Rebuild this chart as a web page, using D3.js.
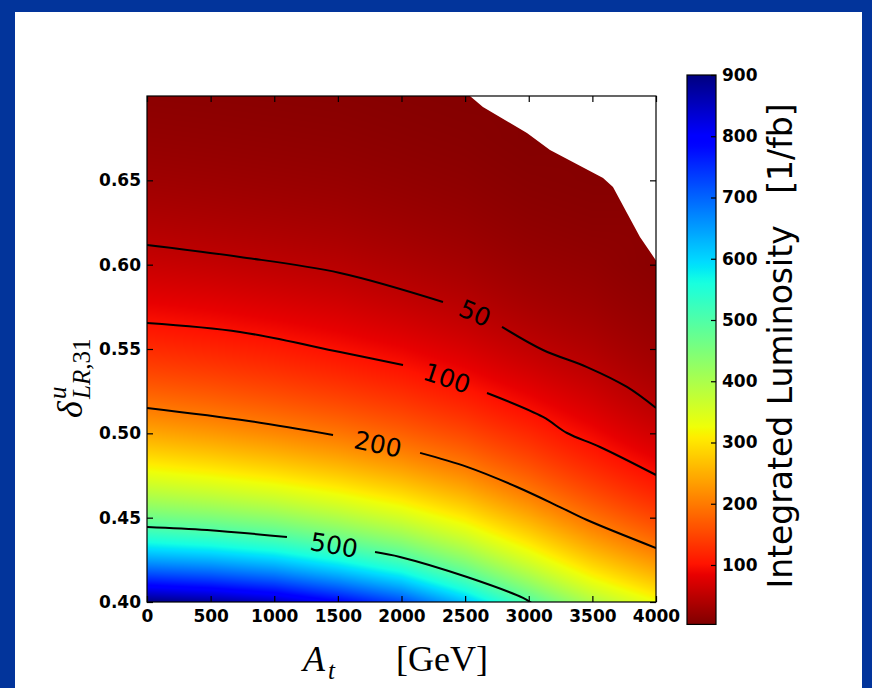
<!DOCTYPE html>
<html><head><meta charset="utf-8">
<script src="https://cdn.jsdelivr.net/npm/d3@7/dist/d3.min.js"></script>
<style>html,body{margin:0;padding:0;background:rgb(2,52,155);} svg{display:block}</style>
</head><body>
<svg id="chart" width="872" height="688"></svg>
<script>
// ---------------- data ----------------
const atValues = [0, 500, 1000, 1500, 2000, 2500, 3000, 3500, 4000];          // A_t [GeV]
const deltaValues = [0.400, 0.425, 0.450, 0.475, 0.500, 0.525, 0.550, 0.575, 0.600, 0.625, 0.650, 0.675, 0.700];
// integrated luminosity [1/fb], one row per delta value, one column per A_t value (null = no data)
const lumGrid = [
  [900, 880, 849, 793, 725, 619, 500, 395, 328],
  [646, 632, 606, 562, 511, 436, 351, 275, 223],
  [466, 451, 430, 396, 357, 307, 247, 191, 150],
  [337, 321, 302, 278, 250, 216, 173, 132, 100],
  [243, 229, 213, 196, 175, 151, 121, 91, 65],
  [174, 164, 152, 139, 124, 105, 82, 62, 42],
  [124, 117, 109, 98, 86, 71, 54, 41, 27],
  [87, 82, 75, 68, 58, 48, 35, 27, 17.5],
  [59.5, 55.7, 51.1, 46.5, 39.3, 32.1, 23.0, 18.2, 11.3],
  [40.7, 37.8, 34.7, 31.6, 26.5, 21.5, 15.0, 12.0, null],
  [27.6, 25.7, 23.5, 21.4, 17.8, 14.4, 9.8, 8.0, null],
  [18.7, 17.4, 16.0, 14.5, 12.0, 9.7, 6.4, null, null],
  [12.7, 11.8, 10.8, 9.9, 8.1, 6.5, null, null, null]
];
// edge of the region without data (upper right)
const missingEdge = [[2538, 0.700], [2640, 0.6935], [2986, 0.678], [3167, 0.668], [3584, 0.6514],
                     [3662, 0.646], [3772, 0.6307], [3874, 0.6164], [4000, 0.6025]];
const xTicks = [0, 500, 1000, 1500, 2000, 2500, 3000, 3500, 4000];
const yTicks = [0.40, 0.45, 0.50, 0.55, 0.60, 0.65];
const cbTicks = [100, 200, 300, 400, 500, 600, 700, 800, 900];
const lumMin = 3, lumMax = 900;
const contourLevels = [50, 100, 200, 500];
// contour lines: [segment before label, segment after label]
const contour50 = [
  [[0, 0.6117], [731, 0.6046], [1517, 0.5951], [2326, 0.5779]],
  [[2790, 0.5631], [3112, 0.5494], [3458, 0.5393], [3772, 0.5275], [4000, 0.5150]]
];
const contour100 = [
  [[0, 0.5654], [731, 0.5601], [1517, 0.5482], [2012, 0.5405]],
  [[2672, 0.5239], [3112, 0.5097], [3301, 0.5002], [3560, 0.4919], [4000, 0.4753]]
];
const contour200 = [
  [[0, 0.5150], [800, 0.5073], [1462, 0.4990]],
  [[2146, 0.4884], [2515, 0.4801], [2908, 0.4682], [3246, 0.4563], [3458, 0.4486], [4000, 0.4320]]
];
const contour500 = [
  [[0, 0.4445], [472, 0.4427], [1100, 0.4385]],
  [[1792, 0.4296], [1988, 0.4267], [2515, 0.4148], [2955, 0.4024], [3030, 0.3990]]
];
const contourLabelAt = [[2578, 0.5714], [2358, 0.5328], [1815, 0.4937], [1470, 0.4338]];

// ---------------- layout ----------------
const svg = d3.select("#chart");
const P = {l: 147, r: 656, t: 96, b: 602};
const CB = {l: 687, r: 716, t: 75, b: 626.25};

svg.append("rect").attr("x", 0).attr("y", 0).attr("width", 872).attr("height", 688).attr("fill", "rgb(2,52,155)");
svg.append("rect").attr("x", 15).attr("y", 12).attr("width", 847).attr("height", 680).attr("fill", "#ffffff");

const x = d3.scaleLinear().domain([0, 4000]).range([P.l, P.r]);
const y = d3.scaleLinear().domain([0.40, 0.70]).range([P.b, P.t]);
const cb = d3.scaleLinear().domain([0, 900]).range([CB.b, CB.t]);

// jet colormap (reversed: high luminosity = blue)
const jetR = d3.scaleLinear().domain([0, 0.35, 0.66, 0.89, 1]).range([0, 0, 1, 1, 0.5]).clamp(true);
const jetG = d3.scaleLinear().domain([0, 0.125, 0.375, 0.64, 0.91, 1]).range([0, 0, 1, 1, 0, 0]).clamp(true);
const jetB = d3.scaleLinear().domain([0, 0.11, 0.34, 0.65, 1]).range([0.5, 1, 1, 0, 0]).clamp(true);
const tOf = d3.scaleLinear().domain([lumMin, lumMax]).range([1, 0]).clamp(true);
function colorRGB(v) { const t = tOf(v); return [Math.round(255 * jetR(t)), Math.round(255 * jetG(t)), Math.round(255 * jetB(t))]; }

// grid index scales
const xi = d3.scaleLinear().domain(atValues).range(d3.range(atValues.length)).clamp(true);
const yi = d3.scaleLinear().domain(deltaValues).range(d3.range(deltaValues.length)).clamp(true);
function lumAt(a, d) {
  const fi = xi(a), fj = yi(d);
  const i0 = Math.min(Math.floor(fi), atValues.length - 2), j0 = Math.min(Math.floor(fj), deltaValues.length - 2);
  const u = fi - i0, w = fj - j0;
  const corners = [[j0, i0, (1 - u) * (1 - w)], [j0, i0 + 1, u * (1 - w)], [j0 + 1, i0, (1 - u) * w], [j0 + 1, i0 + 1, u * w]];
  let s = 0, ws = 0;
  corners.forEach(([j, i, wt]) => { const v = lumGrid[j][i]; if (v != null && wt > 0) { s += wt * Math.log(v); ws += wt; } });
  if (ws === 0) {
    corners.forEach(([j, i]) => { const v = lumGrid[j][i]; if (v != null) { s += Math.log(v); ws += 1; } });
  }
  return ws ? Math.exp(s / ws) : null;
}

// heat map raster
const W = Math.round(P.r - P.l), H = Math.round(P.b - P.t);
const canvas = document.createElement("canvas");
canvas.width = W; canvas.height = H;
const ctx = canvas.getContext("2d");
const img = ctx.createImageData(W, H);
for (let py = 0; py < H; py++) {
  const d = y.invert(P.t + py + 0.5);
  for (let px = 0; px < W; px++) {
    const a = x.invert(P.l + px + 0.5);
    const v = lumAt(a, d);
    const k = 4 * (py * W + px);
    if (v == null) { img.data[k] = 255; img.data[k + 1] = 255; img.data[k + 2] = 255; img.data[k + 3] = 255; continue; }
    const c = colorRGB(v);
    img.data[k] = c[0]; img.data[k + 1] = c[1]; img.data[k + 2] = c[2]; img.data[k + 3] = 255;
  }
}
ctx.putImageData(img, 0, 0);

const defs = svg.append("defs");
defs.append("clipPath").attr("id", "plotclip").append("rect")
  .attr("x", P.l).attr("y", P.t).attr("width", P.r - P.l).attr("height", P.b - P.t);

svg.append("image").attr("x", P.l).attr("y", P.t).attr("width", W).attr("height", H)
  .attr("preserveAspectRatio", "none").attr("href", canvas.toDataURL());

// region without data
const maskPts = missingEdge.concat([[4000, 0.70]]);
svg.append("path").attr("clip-path", "url(#plotclip)")
  .attr("d", d3.line().x(p => x(p[0])).y(p => y(p[1]))(maskPts) + "Z")
  .attr("fill", "#ffffff");

// contour lines
const line = d3.line().x(p => x(p[0])).y(p => y(p[1])).curve(d3.curveCatmullRom);
const contours = [contour50, contour100, contour200, contour500];
const cg = svg.append("g").attr("clip-path", "url(#plotclip)");
contours.forEach(segs => {
  segs.forEach(seg => cg.append("path").attr("d", line(seg)).attr("fill", "none")
    .attr("stroke", "#000").attr("stroke-width", 2));
});
contours.forEach((segs, k) => {
  const a = segs[0][segs[0].length - 1], b = segs[1][0];
  const ang = Math.atan2(y(b[1]) - y(a[1]), x(b[0]) - x(a[0])) * 180 / Math.PI;
  const lp = contourLabelAt[k];
  svg.append("text").attr("transform", `translate(${x(lp[0])},${y(lp[1])}) rotate(${ang})`)
    .attr("text-anchor", "middle").attr("dy", "0.36em")
    .attr("font-family", "DejaVu Sans").attr("font-size", 25).attr("fill", "#000")
    .text(contourLevels[k]);
});

// axes
const tickFont = g => g.selectAll("text").attr("font-family", "DejaVu Sans").attr("font-weight", "bold")
  .attr("font-size", 17).attr("fill", "#000");
const clean = g => { g.select(".domain").remove(); g.selectAll(".tick line").attr("stroke", "#000").attr("stroke-width", 1.2); };
svg.append("g").attr("transform", `translate(0,${P.b})`)
  .call(d3.axisBottom(x).tickValues(xTicks).tickSize(-6).tickPadding(8).tickFormat(d3.format("d")))
  .call(clean).call(tickFont);
svg.append("g").attr("transform", `translate(0,${P.t})`)
  .call(d3.axisTop(x).tickValues(xTicks).tickSize(-6).tickFormat(""))
  .call(clean);
svg.append("g").attr("transform", `translate(${P.l},0)`)
  .call(d3.axisLeft(y).tickValues(yTicks).tickSize(-6).tickPadding(6).tickFormat(d3.format(".2f")))
  .call(clean).call(tickFont);
svg.append("g").attr("transform", `translate(${P.r},0)`)
  .call(d3.axisRight(y).tickValues(yTicks).tickSize(-6).tickFormat(""))
  .call(clean);
svg.append("rect").attr("x", P.l).attr("y", P.t).attr("width", P.r - P.l).attr("height", P.b - P.t)
  .attr("fill", "none").attr("stroke", "#000").attr("stroke-width", 1.2);

// colorbar
const grad = defs.append("linearGradient").attr("id", "cbgrad")
  .attr("x1", 0).attr("y1", 1).attr("x2", 0).attr("y2", 0);
const stops = d3.range(0, 101).map(i => lumMin + (lumMax - lumMin) * i / 100);
stops.forEach((v, i) => {
  const c = colorRGB(v);
  grad.append("stop").attr("offset", i / 100).attr("stop-color", `rgb(${c[0]},${c[1]},${c[2]})`);
});
svg.append("rect").attr("x", CB.l).attr("y", cb(lumMax)).attr("width", CB.r - CB.l)
  .attr("height", cb(lumMin) - cb(lumMax)).attr("fill", "url(#cbgrad)")
  .attr("stroke", "#000").attr("stroke-width", 1.2);
svg.append("g").attr("transform", `translate(${CB.r},0)`)
  .call(d3.axisRight(cb).tickValues(cbTicks).tickSize(-5).tickPadding(6).tickFormat(d3.format("d")))
  .call(clean).call(tickFont);
svg.append("text").attr("transform", `translate(792,346) rotate(-90)`).attr("text-anchor", "middle")
  .attr("font-family", "DejaVu Sans").attr("font-size", 33).attr("fill", "#000")
  .style("white-space", "pre").attr("xml:space", "preserve")
  .text("Integrated Luminosity   [1/fb]");

// axis titles
const serif = "Liberation Serif";
const xl = svg.append("g");
xl.append("text").attr("x", 303).attr("y", 671).attr("font-family", serif).attr("font-style", "italic")
  .attr("font-size", 36).text("A");
xl.append("text").attr("x", 328).attr("y", 679).attr("font-family", serif).attr("font-style", "italic")
  .attr("font-size", 25).text("t");
xl.append("text").attr("x", 396).attr("y", 671).attr("font-family", serif).attr("font-size", 36).text("[GeV]");

const yl = svg.append("g").attr("transform", "translate(82,380) rotate(-90)");
yl.append("text").attr("x", -38).attr("y", 0).attr("font-family", serif).attr("font-style", "italic")
  .attr("font-size", 36).text("δ");
yl.append("text").attr("x", -19).attr("y", -16).attr("font-family", serif).attr("font-style", "italic")
  .attr("font-size", 25).text("u");
const sub = yl.append("text").attr("x", -19).attr("y", 8).attr("font-family", serif).attr("font-size", 25);
sub.append("tspan").attr("font-style", "italic").text("LR");
sub.append("tspan").text(",31");
</script>
</body></html>
